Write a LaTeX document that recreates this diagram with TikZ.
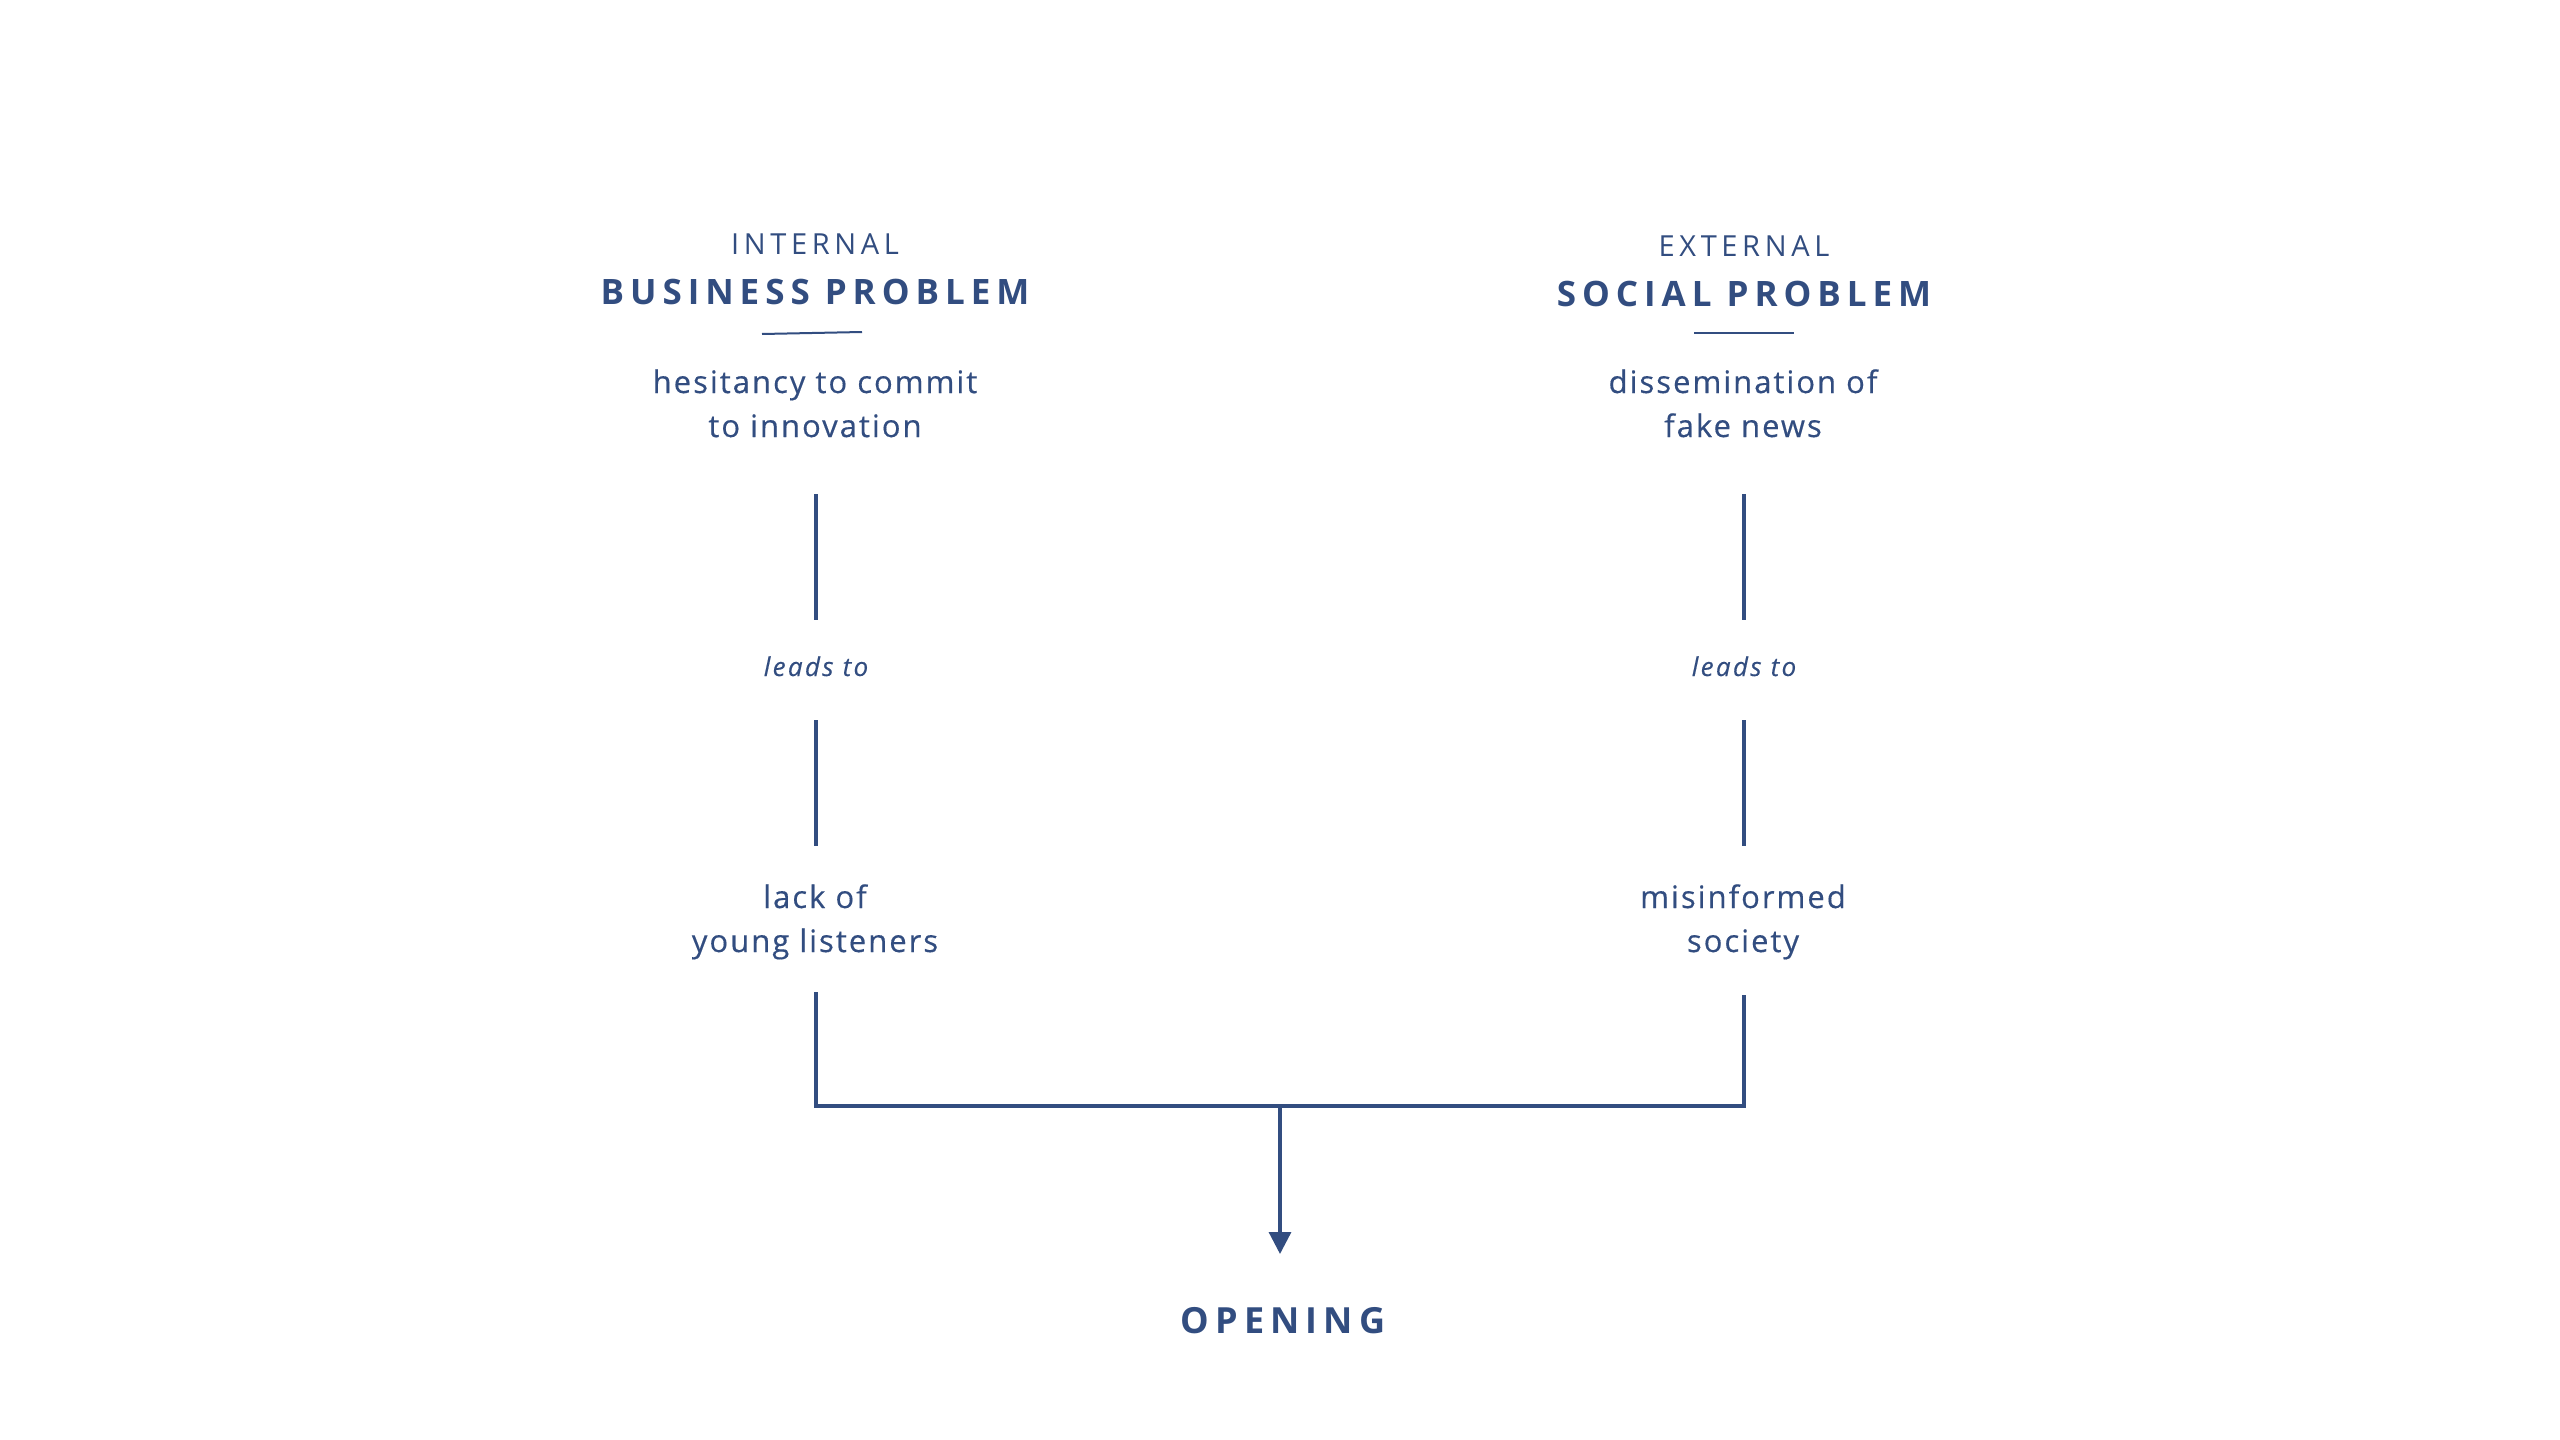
\documentclass[tikz,border=0pt]{standalone}
\usepackage{fontspec}
\setmainfont{Open Sans}
\newfontfamily\capsfont[LetterSpace=16]{Open Sans}
\newfontfamily\headfont[LetterSpace=17]{Open Sans}
\newfontfamily\bodyfont[LetterSpace=6.5,FakeBold=0.4]{Open Sans}
\newfontfamily\leadfont[LetterSpace=9,FakeBold=0.3]{Open Sans}
\usetikzlibrary{arrows.meta}
\definecolor{ink}{RGB}{50,77,128}
\begin{document}
\begin{tikzpicture}[x=1pt,y=-1pt,
  every node/.style={text=ink, inner sep=0pt, outer sep=0pt},
  kicker/.style={font=\capsfont\fontsize{29}{34}\selectfont, anchor=base},
  headline/.style={font=\headfont\bfseries\fontsize{35}{40}\selectfont, anchor=base},
  bodytext/.style={font=\bodyfont\fontsize{31}{44}\selectfont, align=center, anchor=base},
  leadtext/.style={font=\leadfont\itshape\fontsize{26}{30}\selectfont, anchor=base},
  conn/.style={draw=ink, line width=3.2pt},
  rule/.style={draw=ink, line width=2pt}]
\useasboundingbox (0,0) rectangle (2560,1440);
\fill[white] (0,0) rectangle (2560,1440);

% left column
\node[kicker] (int) at (815,254) {INTERNAL};
\node[headline] (bus) at (815,304) {BUSINESS PROBLEM};
\coordinate (ulA) at (762,334); \coordinate (ulB) at (862,332);
\draw[rule] (ulA) -- (ulB);
\node[bodytext] (hes) at (815,437) {hesitancy to commit\\to innovation};
\node[leadtext] (lead1) at (816,676) {leads to};
\node[bodytext] (lack) at (815,952) {lack of\\young listeners};
\coordinate (l1a) at (816,494); \coordinate (l1b) at (816,620);
\coordinate (l2a) at (816,720); \coordinate (l2b) at (816,846);
\draw[conn] (l1a) -- (l1b);
\draw[conn] (l2a) -- (l2b);

% right column
\node[kicker] (ext) at (1744,256) {EXTERNAL};
\node[headline] (soc) at (1744,306) {SOCIAL PROBLEM};
\coordinate (urA) at (1694,333); \coordinate (urB) at (1794,333);
\draw[rule] (urA) -- (urB);
\node[bodytext] (dis) at (1743,437) {dissemination of\\fake news};
\node[leadtext] (lead2) at (1744,676) {leads to};
\node[bodytext] (mis) at (1743,952) {misinformed\\society};
\coordinate (r1a) at (1744,494); \coordinate (r1b) at (1744,620);
\coordinate (r2a) at (1744,720); \coordinate (r2b) at (1744,846);
\draw[conn] (r1a) -- (r1b);
\draw[conn] (r2a) -- (r2b);

% bracket and arrow
\coordinate (bl) at (816,994);
\coordinate (br) at (1744,997);
\coordinate (mid) at (1280,1106);
\coordinate (tip) at (1280,1254);
\draw[conn, line cap=rect] (bl) |- (mid) -| (br);
\draw[conn, -{Triangle[width=22pt,length=22pt]}] (mid) -- (tip);
\node[headline, font=\headfont\bfseries\fontsize{36}{40}\selectfont] (open) at (1283,1333) {OPENING};
\end{tikzpicture}
\end{document}
